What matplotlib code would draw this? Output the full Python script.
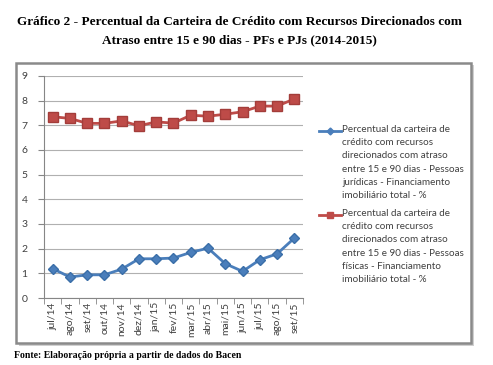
import matplotlib
matplotlib.use("Agg")
import matplotlib.pyplot as plt
from matplotlib.patches import Rectangle
from matplotlib.lines import Line2D
import numpy as np

categories = ["jul/14", "ago/14", "set/14", "out/14", "nov/14", "dez/14",
              "jan/15", "fev/15", "mar/15", "abr/15", "mai/15", "jun/15",
              "jul/15", "ago/15", "set/15"]
pj_values = [1.19, 0.85, 0.94, 0.94, 1.17, 1.59, 1.59, 1.62, 1.85, 2.02,
             1.39, 1.08, 1.55, 1.79, 2.43]
pf_values = [7.35, 7.28, 7.08, 7.08, 7.18, 6.98, 7.14, 7.09, 7.41, 7.37,
             7.45, 7.55, 7.78, 7.78, 8.07]
y_ticks = [0, 1, 2, 3, 4, 5, 6, 7, 8, 9]

label_pj = ("Percentual da carteira de\ncrédito com recursos\ndirecionados com atraso\n"
            "entre 15 e 90 dias - Pessoas\njurídicas - Financiamento\nimobiliário total - %")
label_pf = ("Percentual da carteira de\ncrédito com recursos\ndirecionados com atraso\n"
            "entre 15 e 90 dias - Pessoas\nfísicas - Financiamento\nimobiliário total - %")

W, H = 493, 365
fig = plt.figure(figsize=(W / 100, H / 100), dpi=100)
fig.patch.set_facecolor("white")

# chart box with shadow
fig.patches.append(Rectangle((19 / W, 1 - 346 / H), 455 / W, 281 / H, transform=fig.transFigure,
                             facecolor="#d0d0d0", edgecolor="none", zorder=0))
fig.patches.append(Rectangle((16 / W, 1 - 343 / H), 455 / W, 280 / H, transform=fig.transFigure,
                             facecolor="white", edgecolor="#8a8a8a", linewidth=1.8, zorder=1))

ax = fig.add_axes([44 / W, 1 - 298 / H, (303 - 44) / W, (298 - 76) / H])
ax.set_facecolor("none")
ax.set_zorder(2)
x = np.arange(len(categories))

blue, red = "#4a7ebb", "#be4b48"
ax.plot(x, pj_values, color=blue, linewidth=2, marker="D", markersize=5,
        markerfacecolor=blue, markeredgecolor="#3a6ea8")
ax.plot(x, pf_values, color=red, linewidth=2, marker="s", markersize=7,
        markerfacecolor=red, markeredgecolor="#a33d3a")

ax.set_xlim(-0.5, len(categories) - 0.5)
ax.set_ylim(0, 9)
ax.set_yticks(y_ticks)
ax.set_xticks(x)
ax.set_xticklabels(categories, rotation=90, fontsize=7.5, color="#404040", family="Lato")
ax.set_yticklabels([str(v) for v in y_ticks], fontsize=7.5, color="#404040", family="Lato")
ax.set_xticks(np.arange(-0.5, len(categories), 1), minor=True)
ax.tick_params(axis="x", which="major", length=0, pad=3)
ax.tick_params(axis="x", which="minor", length=4, color="#868686", direction="out")
ax.tick_params(axis="y", length=4, color="#868686", direction="out", pad=8)
ax.grid(axis="y", color="#b0b0b0", linewidth=0.8)
ax.set_axisbelow(True)
for s in ["top", "right"]:
    ax.spines[s].set_visible(False)
for s in ["left", "bottom"]:
    ax.spines[s].set_color("#868686")
    ax.spines[s].set_linewidth(0.8)

# legend drawn manually (handle aligned to the first text line)
def legend_entry(y_px, color, marker, ms, label):
    yf = 1 - y_px / H
    fig.lines.append(Line2D([319 / W, 341 / W], [yf, yf], transform=fig.transFigure,
                            color=color, linewidth=2, marker=None, zorder=3))
    fig.lines.append(Line2D([330 / W], [yf], transform=fig.transFigure, color=color,
                            marker=marker, markersize=ms, markerfacecolor=color,
                            markeredgecolor=color, zorder=4))
    fig.text(342 / W, yf + 6.5 / H, label, ha="left", va="top", fontsize=7.1,
             family="Lato", color="#404040", linespacing=1.62, zorder=4)

legend_entry(131, blue, "D", 3.5, label_pj)
legend_entry(215, red, "s", 5, label_pf)

fig.text(0.485, 1 - 22 / H, "Gráfico 2 - Percentual da Carteira de Crédito com Recursos Direcionados com",
         ha="center", va="center", fontsize=9.5, fontweight="bold", family="Liberation Serif")
fig.text(0.485, 1 - 40 / H, "Atraso entre 15 e 90 dias - PFs e PJs (2014-2015)",
         ha="center", va="center", fontsize=9.5, fontweight="bold", family="Liberation Serif")
fig.text(14 / W, 1 - 355 / H, "Fonte: Elaboração própria a partir de dados do Bacen",
         ha="left", va="center", fontsize=7, fontweight="bold", family="Liberation Serif")

fig.savefig("out.png", dpi=100, facecolor="white")
